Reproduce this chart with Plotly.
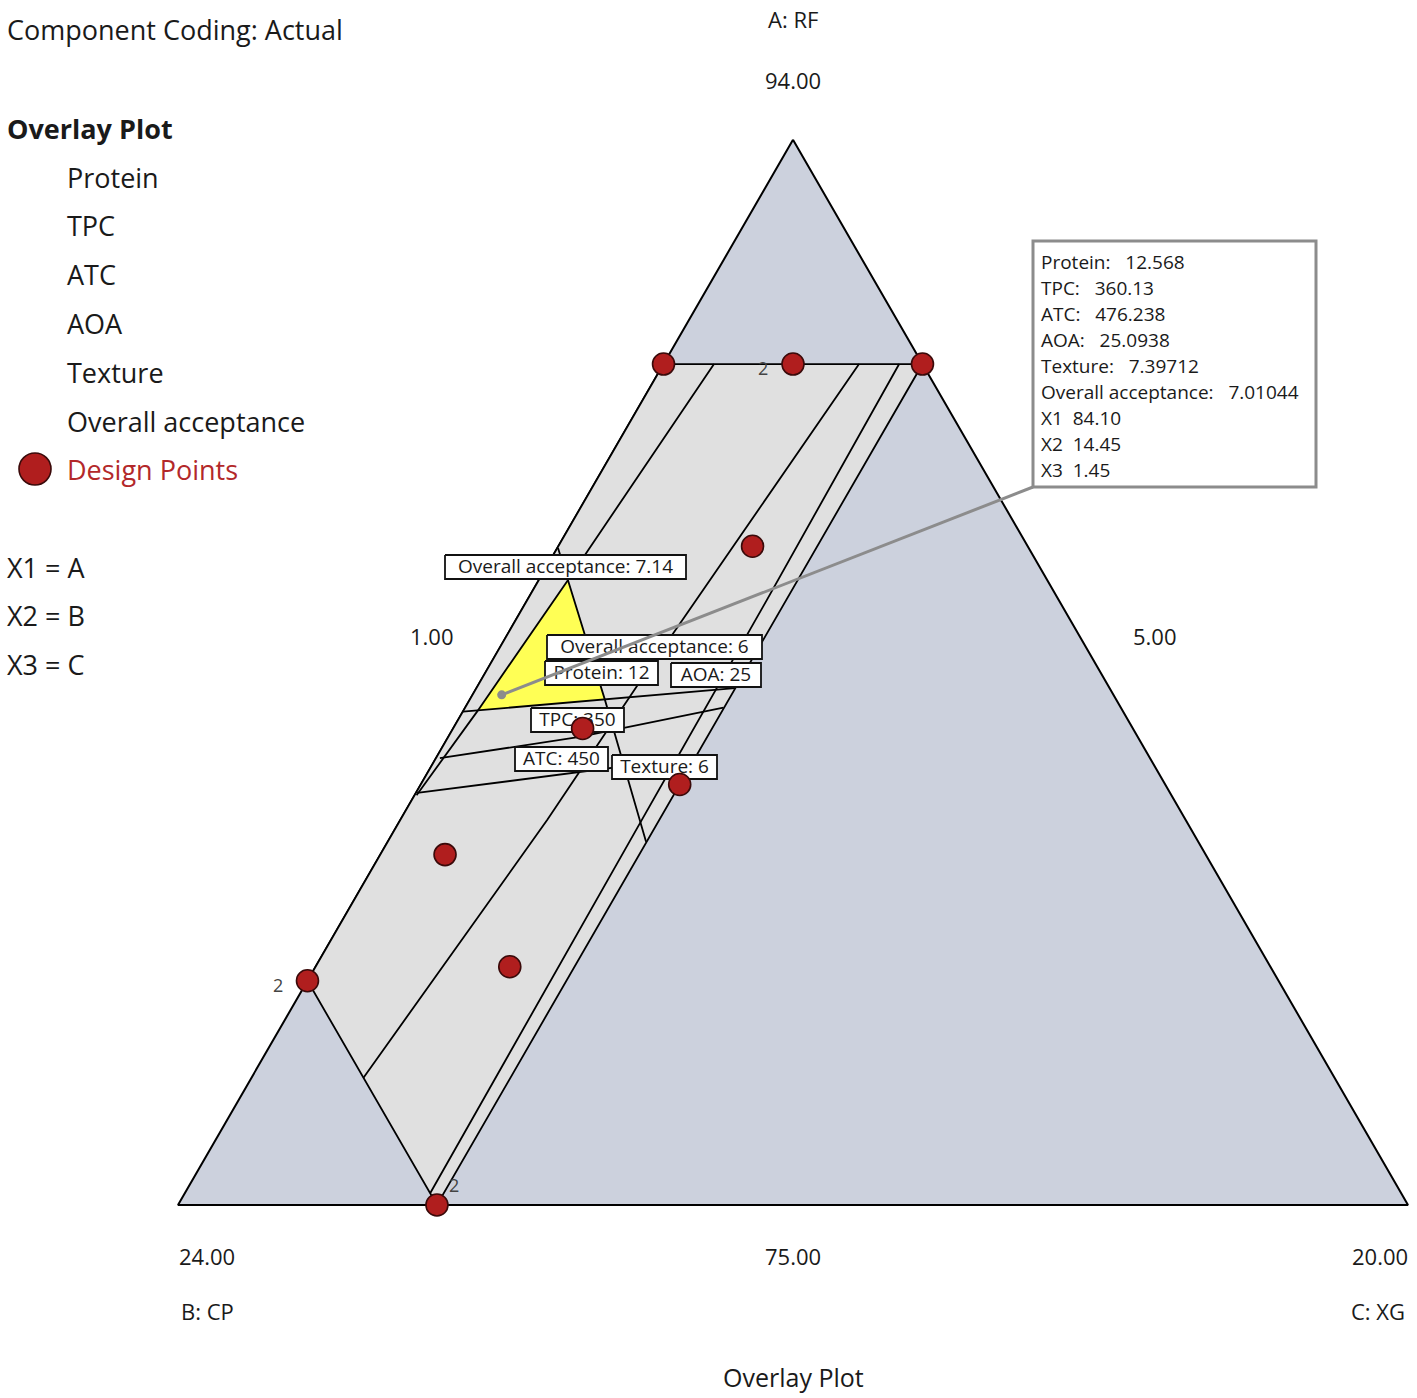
import math
import plotly.graph_objects as go

# ------------------------------------------------------------------
# Data (actual component units: A = RF, B = CP, C = XG; A+B+C = 100)
# ------------------------------------------------------------------
A_MIN, B_MIN, C_MIN = 75.0, 5.0, 1.0
MIX_RANGE = 19.0

# full simplex (pseudo-component triangle)
tri_A = [94, 75, 75, 94]
tri_B = [5, 24, 5, 5]
tri_C = [1, 1, 20, 1]

# constrained design region
region_A = [90, 90, 75, 79, 90]
region_B = [9, 5, 20, 20, 9]
region_C = [1, 5, 5, 1, 1]

# sweet spot (all criteria met)
yellow_A = [86.15, 84.01, 83.82, 86.15]
yellow_B = [12.40, 12.90, 14.96, 12.40]
yellow_C = [1.45, 3.09, 1.22, 1.45]

# contour lines of the criteria limits
oa714_A = [90.00, 86.15, 83.80, 82.31]
oa714_B = [8.22, 12.40, 14.98, 16.66]
oa714_C = [1.78, 1.45, 1.22, 1.03]

oa6_A = [90.00, 84.37, 81.87, 77.27]
oa6_B = [5.98, 12.16, 14.86, 20.00]
oa6_C = [4.02, 3.47, 3.27, 2.73]

texture_A = [90.00, 85.79, 81.87, 75.21]
texture_B = [5.36, 9.51, 13.40, 20.00]
texture_C = [4.64, 4.70, 4.73, 4.79]

protein_A = [86.72, 86.15, 84.01, 81.48]
protein_B = [12.27, 12.40, 12.90, 13.53]
protein_C = [1.01, 1.45, 3.09, 4.99]

aoa_A = [83.80, 84.01, 84.22]
aoa_B = [15.20, 12.93, 10.79]
aoa_C = [1.00, 3.06, 4.99]

tpc_A = [82.97, 83.35, 83.87]
tpc_B = [15.97, 13.62, 11.14]
tpc_C = [1.06, 3.03, 4.99]

atc_A = [82.35, 82.80, 82.99]
atc_B = [16.63, 13.38, 12.01]
atc_C = [1.02, 3.82, 5.00]

# design points
dp_A = [90, 90, 90, 86.75, 83.5, 82.5, 81.25, 79.25, 79, 75]
dp_B = [9, 7, 5, 9.25, 13.5, 12.5, 16.75, 16.75, 20, 20]
dp_C = [1, 3, 5, 4.0, 3.0, 5.0, 2.0, 4.0, 1, 5]
dp_reps = [1, 2, 1, 1, 1, 1, 1, 1, 2, 2]

# flagged optimum
opt_A, opt_B, opt_C = [84.10], [14.45], [1.45]
opt_names = ["Protein:", "TPC:", "ATC:", "AOA:", "Texture:", "Overall acceptance:", "X1", "X2", "X3"]
opt_values = ["12.568", "360.13", "476.238", "25.0938", "7.39712", "7.01044", "84.10", "14.45", "1.45"]

contour_labels = ["Overall acceptance: 7.14", "Overall acceptance: 6", "Protein: 12",
                  "AOA: 25", "TPC: 350", "ATC: 450", "Texture: 6"]

legend_items = ["Protein", "TPC", "ATC", "AOA", "Texture", "Overall acceptance"]
coding_items = ["X1 = A", "X2 = B", "X3 = C"]

# ------------------------------------------------------------------
# Geometry / styling
# ------------------------------------------------------------------
FONT = "Open Sans"
OFF = 0
FIG_W, FIG_H = 1417, 1398
TRI_L, TRI_BOT, TRI_W = 178, 1205, 1230
SQ3 = math.sqrt(3) / 2

BLUEGRAY = "#CCD1DD"
LIGHTGRAY = "#E0E0E0"
YELLOW = "#FFFF55"
RED = "#B01E1E"
REDLINE = "#3A0A0A"
LEADER = "#8C8C8C"
LW = 1.8


def proj(A, B, C):
    xs, ys = [], []
    for a, b, c in zip(A, B, C):
        ap = (a - A_MIN) / MIX_RANGE
        cp = (c - C_MIN) / MIX_RANGE
        xs.append(cp + ap / 2)
        ys.append(ap * SQ3)
    return xs, ys


def px(X, Y):
    return (X - TRI_L) / TRI_W, (TRI_BOT - Y) / TRI_W


def paper(X, Y):
    return (X - OFF) / FIG_W, 1 - (Y - OFF) / FIG_H


fig = go.Figure()

# outer triangle
x, y = proj(tri_A, tri_B, tri_C)
fig.add_trace(go.Scatter(x=x, y=y, mode="lines", fill="toself", fillcolor=BLUEGRAY,
                         line=dict(color="black", width=2), hoverinfo="skip"))
# design region
x, y = proj(region_A, region_B, region_C)
fig.add_trace(go.Scatter(x=x, y=y, mode="lines", fill="toself", fillcolor=LIGHTGRAY,
                         line=dict(color="black", width=LW), hoverinfo="skip"))
# sweet spot
x, y = proj(yellow_A, yellow_B, yellow_C)
fig.add_trace(go.Scatter(x=x, y=y, mode="lines", fill="toself", fillcolor=YELLOW,
                         line=dict(color="rgba(0,0,0,0)", width=0), hoverinfo="skip"))

# contour lines
for A, B, C in [(oa714_A, oa714_B, oa714_C), (oa6_A, oa6_B, oa6_C),
                (texture_A, texture_B, texture_C), (protein_A, protein_B, protein_C),
                (aoa_A, aoa_B, aoa_C), (tpc_A, tpc_B, tpc_C), (atc_A, atc_B, atc_C)]:
    x, y = proj(A, B, C)
    fig.add_trace(go.Scatter(x=x, y=y, mode="lines", line=dict(color="black", width=LW),
                             hoverinfo="skip"))

# contour label boxes (center px, width px)
label_pos = [(565.5, 567, 241), (654.5, 647, 215), (601.5, 673, 113), (716, 675, 90),
             (577.5, 720, 93), (561.5, 759, 93), (664.5, 767, 105)]
LBL_H = 24
for text, (cx, cy, w) in zip(contour_labels, label_pos):
    xs, ys = [], []
    for X, Y in [(cx - w / 2, cy - LBL_H / 2), (cx + w / 2, cy - LBL_H / 2),
                 (cx + w / 2, cy + LBL_H / 2), (cx - w / 2, cy + LBL_H / 2),
                 (cx - w / 2, cy - LBL_H / 2)]:
        a, b = px(X, Y)
        xs.append(a)
        ys.append(b)
    fig.add_trace(go.Scatter(x=xs, y=ys, mode="lines", fill="toself", fillcolor="white",
                             line=dict(color="#111111", width=LW), hoverinfo="skip"))
    tx, ty = px(cx, cy + 1)
    fig.add_trace(go.Scatter(x=[tx], y=[ty], mode="text", text=[text],
                             textposition="middle center",
                             textfont=dict(family=FONT, size=19, color="#1a1a1a"),
                             hoverinfo="skip"))

# design points
x, y = proj(dp_A, dp_B, dp_C)
fig.add_trace(go.Scatter(x=x, y=y, mode="markers",
                         marker=dict(size=22, color=RED, line=dict(color=REDLINE, width=1.6)),
                         hoverinfo="skip"))

# optimum point
ox, oy = proj(opt_A, opt_B, opt_C)
fig.add_trace(go.Scatter(x=ox, y=oy, mode="markers",
                         marker=dict(size=9, color=LEADER), hoverinfo="skip"))

shapes = []
annotations = []


def txt(X, Y, s, size, color="#1a1a1a", anchor="center"):
    a, b = paper(X, Y)
    return dict(x=a, y=b, xref="paper", yref="paper", text=s, showarrow=False,
                xanchor=anchor, yanchor="middle",
                font=dict(family=FONT, size=size, color=color))


# leader line + flag box
bx0, by0 = px(1033, 487)
shapes.append(dict(type="line", xref="x", yref="y", x0=ox[0], y0=oy[0], x1=bx0, y1=by0,
                   line=dict(color=LEADER, width=3), layer="above"))
rx0, ry0 = px(1033, 241)
rx1, ry1 = px(1316, 487)
shapes.append(dict(type="rect", xref="x", yref="y", x0=rx0, y0=ry1, x1=rx1, y1=ry0,
                   line=dict(color=LEADER, width=3), fillcolor="white", layer="above"))
for i, (n, v) in enumerate(zip(opt_names, opt_values)):
    sep = "\u00a0\u00a0" if i >= 6 else "\u00a0\u00a0\u00a0"
    annotations.append(txt(1039, 262 + 26 * i, n + sep + v, 19, anchor="left"))

# replicate counts
rep_offsets = {1: (-30, -4), 8: (-29, -4), 9: (17, 20)}
for i, r in enumerate(dp_reps):
    if r > 1:
        dx, dy = rep_offsets[i]
        annotations.append(dict(x=x[i], y=y[i], xref="x", yref="y", text=str(r),
                                showarrow=False, xshift=dx, yshift=dy,
                                font=dict(family=FONT, size=18, color="#444444")))

# axis labels
annotations += [
    txt(793, 19, "A: RF", 22),
    txt(793, 80, "94.00", 22),
    txt(432, 636, "1.00", 22),
    txt(1155, 636, "5.00", 22),
    txt(207, 1256, "24.00", 22),
    txt(793, 1256, "75.00", 22),
    txt(1380, 1256, "20.00", 22),
    txt(207, 1311, "B: CP", 22),
    txt(1378, 1311, "C: XG", 22),
    txt(793, 1377, "Overlay Plot", 25),
]

# legend block
annotations.append(txt(5, 30, "Component Coding: Actual", 27, anchor="left"))
annotations.append(txt(5, 128, "<b>Overlay Plot</b>", 27, anchor="left"))
for i, item in enumerate(legend_items):
    annotations.append(txt(65, 177 + 48.8 * i, item, 27, anchor="left"))
annotations.append(txt(65, 469, "Design Points", 27, color="#B3282A", anchor="left"))
cx0, cy0 = px(35 - 16, 469 + 16)
cx1, cy1 = px(35 + 16, 469 - 16)
shapes.append(dict(type="circle", xref="x", yref="y", x0=cx0, y0=cy0, x1=cx1, y1=cy1,
                   fillcolor=RED, line=dict(color=REDLINE, width=1.6), layer="above"))
for i, item in enumerate(coding_items):
    annotations.append(txt(5, 567 + 48.5 * i, item, 27, anchor="left"))

x_range = [px(OFF, 0)[0], px(OFF + FIG_W, 0)[0]]
y_range = [px(0, OFF + FIG_H)[1], px(0, OFF)[1]]

fig.update_layout(
    width=FIG_W, height=FIG_H,
    margin=dict(l=0, r=0, t=0, b=0),
    paper_bgcolor="white", plot_bgcolor="white",
    showlegend=False,
    xaxis=dict(range=x_range, visible=False, fixedrange=True),
    yaxis=dict(range=y_range, visible=False, fixedrange=True),
    shapes=shapes,
    annotations=annotations,
    font=dict(family=FONT),
)

fig.write_html("out.html", config={"displayModeBar": False},
               post_script="document.body.style.margin='0px';document.body.style.overflow='hidden';")
